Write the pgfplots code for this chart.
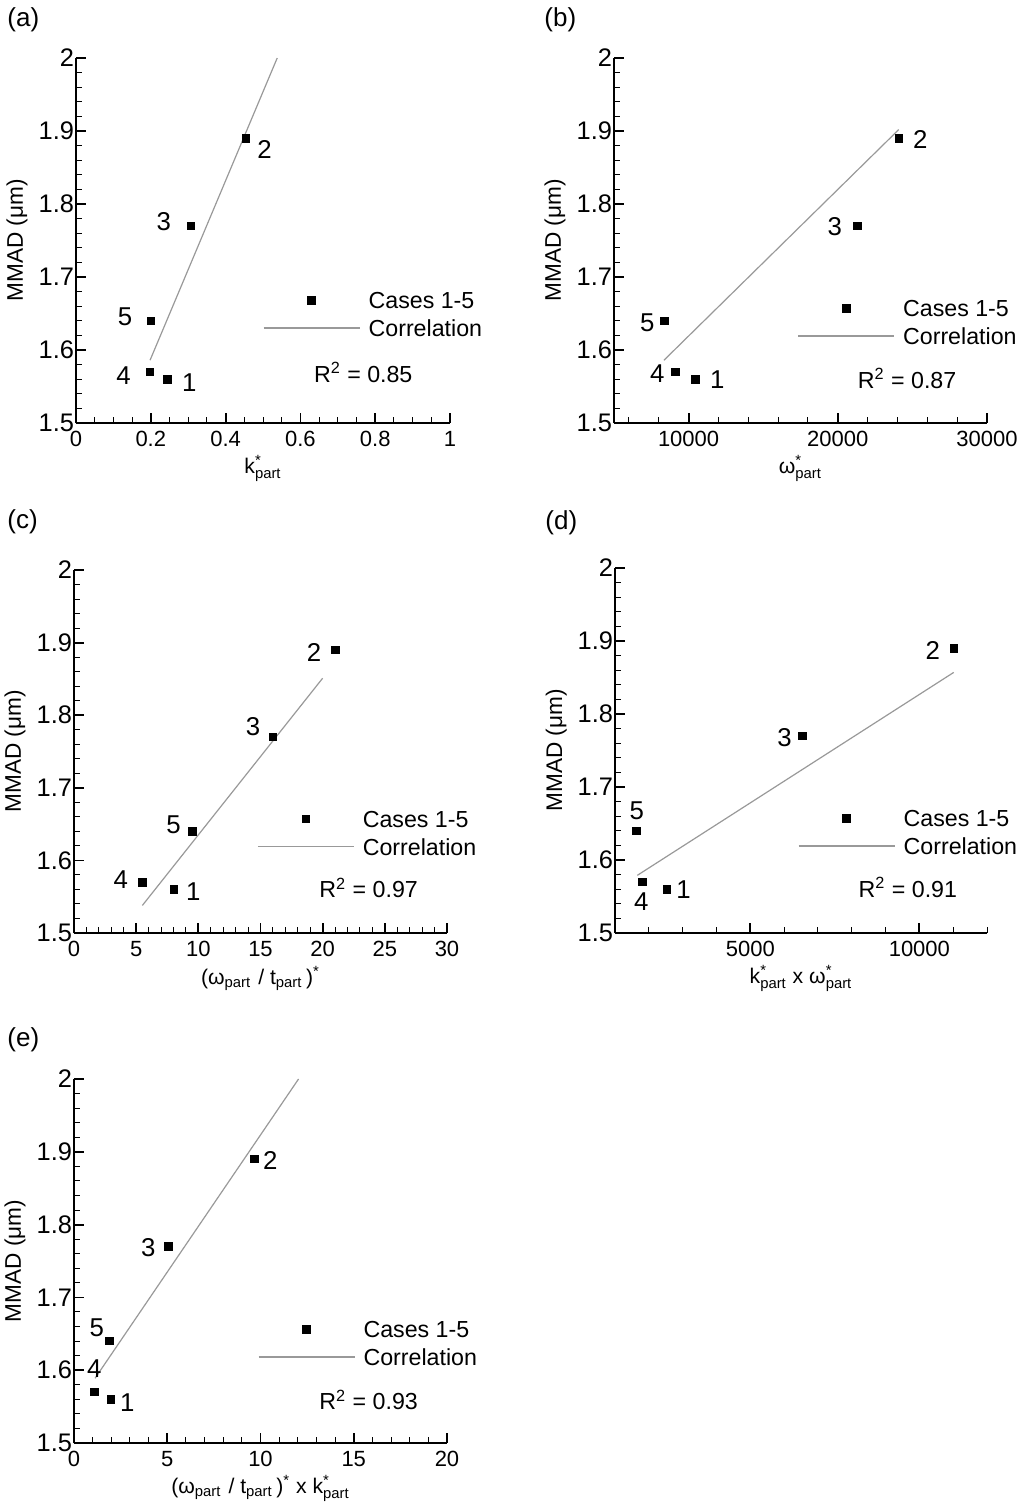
\documentclass[border=0pt]{standalone}
\usepackage{fontspec}
\setmainfont{Liberation Sans}
\usepackage{amsmath}
\usepackage{pgfplots}
\usepackage{pgfplotstable}
\pgfplotsset{compat=1.18}

% axis label pieces
\newcommand{\kstar}{k$^{\text{*}}_{\text{part}}$}
\newcommand{\wstar}{ω$^{\text{*}}_{\text{part}}$}
\newcommand{\wt}{(ω$_{\text{part}}$\,\,/ t$_{\text{part}}$\,)$^{\text{*}}$}

% cases 1..5 (rows in order) and the correlation line ends
\pgfplotstableread{
x y
0.244 1.56
0.454 1.89
0.307 1.77
0.198 1.57
0.200 1.64
}\casesA
\pgfplotstableread{
x y
0.198 1.586
0.538 2.000
}\fitA

\pgfplotstableread{
x y
10468 1.56
24087 1.89
21296 1.77
9128 1.57
8391 1.64
}\casesB
\pgfplotstableread{
x y
8347 1.586
24087 1.902
}\fitB

\pgfplotstableread{
x y
8.05 1.56
21.0 1.89
16.0 1.77
5.5 1.57
9.5 1.64
}\casesC
\pgfplotstableread{
x y
5.5 1.538
20.0 1.851
}\fitC

\pgfplotstableread{
x y
2535 1.56
11016 1.89
6548 1.77
1815 1.57
1627 1.64
}\casesD
\pgfplotstableread{
x y
1660 1.579
11016 1.857
}\fitD

\pgfplotstableread{
x y
1.97 1.56
9.66 1.89
5.06 1.77
1.09 1.57
1.90 1.64
}\casesE
\pgfplotstableread{
x y
1.13 1.589
12.04 2.000
}\fitE

\tikzset{
  lbl/.style={font=\fontsize{12.9}{14}\selectfont, inner sep=0pt},
  rsq/.style={font=\fontsize{11.6}{13}\selectfont, inner sep=0pt},
  plab/.style={font=\fontsize{13}{15}\selectfont, anchor=west, inner sep=0pt},
}

\pgfplotsset{
  mmad/.style={
    scale only axis, width=186.5pt, height=182pt,
    axis lines=left,
    axis line style={line width=1.3pt,-},
    clip=false,
    tick align=inside,
    major tick length=5pt, minor tick length=3pt,
    major tick style={line width=0.9pt,black},
    minor tick style={line width=0.5pt,black},
    ymin=1.5, ymax=2,
    ytick={1.5,1.6,1.7,1.8,1.9,2},
    minor ytick={1.52,1.54,1.56,1.58,1.62,1.64,1.66,1.68,1.72,1.74,1.76,1.78,1.82,1.84,1.86,1.88,1.92,1.94,1.96,1.98},
    yticklabel style={font=\fontsize{12.7}{14}\selectfont, inner xsep=0.8pt},
    xticklabel style={font=\fontsize{11}{13}\selectfont, inner ysep=4pt},
    /pgf/number format/assume math mode=true,
    /pgf/number format/1000 sep={},
    scaled x ticks=false,
    ylabel={MMAD (μm)},
    every axis y label/.style={at={(axis description cs:-0.158,0.5)}, rotate=90, anchor=center, font=\fontsize{11.3}{13}\selectfont},
    every axis x label/.style={at={(axis description cs:0.5,-0.125)}, anchor=center, font=\fontsize{10.6}{13}\selectfont},
    legend style={draw=none, fill=none, inner sep=0pt, column sep=4.2pt, row sep=5.4pt,
      font=\fontsize{11.6}{13}\selectfont, anchor=west,
      nodes={inner sep=0pt, text height=8.4pt, text depth=0pt}},
    legend cell align=left,
  },
  cases/.style={only marks, mark=square*, mark size=1.9pt, black,
    legend image code/.code={\draw[##1] plot coordinates {(24pt,0pt)};}},
  fit/.style={black!40, line width=0.6pt, no marks,
    legend image code/.code={\draw[##1] (0pt,0pt) -- (48pt,0pt);}},
}

\begin{document}
\begin{tikzpicture}
\useasboundingbox (0,0) rectangle (512pt,-755pt);
\node[plab] at (3.5pt,-10pt) {(a)};
\node[plab] at (272pt,-10pt) {(b)};
\node[plab] at (3.5pt,-261pt) {(c)};
\node[plab] at (272.5pt,-261.5pt) {(d)};
\node[plab] at (3.5pt,-520pt) {(e)};

% (a)
\begin{axis}[mmad, at={(38pt,-211.5pt)}, anchor=south west, width=187pt, height=182.5pt,
  xmin=0, xmax=1, xtick={0,0.2,0.4,0.6,0.8,1},
  minor xtick={0.05,0.1,0.15,0.25,0.3,0.35,0.45,0.5,0.55,0.65,0.7,0.75,0.85,0.9,0.95},
  xlabel={\kstar},
  legend style={at={(0.499,0.298)}}]
\addplot[cases] table[x=x,y=y] {\casesA};
\addlegendentry{Cases 1-5}
\addplot[fit] table[x=x,y=y] {\fitA};
\addlegendentry{Correlation}
\node[lbl] at (axis cs:0.303,1.556) {1};
\node[lbl] at (axis cs:0.504,1.875) {2};
\node[lbl] at (axis cs:0.235,1.776) {3};
\node[lbl] at (axis cs:0.127,1.565) {4};
\node[lbl] at (axis cs:0.131,1.645) {5};
\node[rsq] at (axis cs:0.768,1.569) {R\textsuperscript{2} = 0.85};
\end{axis}

% (b)
\begin{axis}[mmad, at={(307pt,-211.5pt)}, anchor=south west, width=186.5pt, height=182.5pt,
  xmin=5000, xmax=30000, xtick={10000,20000,30000},
  minor xtick={6000,8000,12000,14000,16000,18000,22000,24000,26000,28000},
  xlabel={\wstar},
  legend style={at={(0.491,0.276)}}]
\addplot[cases] table[x=x,y=y] {\casesB};
\addlegendentry{Cases 1-5}
\addplot[fit] table[x=x,y=y] {\fitB};
\addlegendentry{Correlation}
\node[lbl] at (axis cs:11920,1.559) {1};
\node[lbl] at (axis cs:25536,1.889) {2};
\node[lbl] at (axis cs:19803,1.769) {3};
\node[lbl] at (axis cs:7900,1.568) {4};
\node[lbl] at (axis cs:7230,1.637) {5};
\node[rsq] at (axis cs:24645,1.561) {R\textsuperscript{2} = 0.87};
\end{axis}

% (c)
\begin{axis}[mmad, at={(37pt,-466.5pt)}, anchor=south west, width=186.5pt, height=181.5pt,
  xmin=0, xmax=30, xtick={0,5,10,15,20,25,30},
  minor xtick={1,2,...,29},
  xlabel={\wt},
  legend style={at={(0.49,0.276)}}]
\addplot[cases] table[x=x,y=y] {\casesC};
\addlegendentry{Cases 1-5}
\addplot[fit] table[x=x,y=y] {\fitC};
\addlegendentry{Correlation}
\node[lbl] at (axis cs:9.6,1.557) {1};
\node[lbl] at (axis cs:19.3,1.886) {2};
\node[lbl] at (axis cs:14.4,1.784) {3};
\node[lbl] at (axis cs:3.76,1.573) {4};
\node[lbl] at (axis cs:8.0,1.649) {5};
\node[rsq] at (axis cs:23.7,1.562) {R\textsuperscript{2} = 0.97};
\end{axis}

% (d)
\begin{axis}[mmad, at={(307.5pt,-466.5pt)}, anchor=south west, width=186pt, height=182.5pt,
  xmin=1000, xmax=12000, xtick={5000,10000},
  minor xtick={2000,3000,4000,6000,7000,8000,9000,11000,12000},
  xlabel={\kstar{} x \wstar},
  legend style={at={(0.491,0.276)}}]
\addplot[cases] table[x=x,y=y] {\casesD};
\addlegendentry{Cases 1-5}
\addplot[fit] table[x=x,y=y] {\fitD};
\addlegendentry{Correlation}
\node[lbl] at (axis cs:3028,1.559) {1};
\node[lbl] at (axis cs:10394,1.887) {2};
\node[lbl] at (axis cs:6016,1.768) {3};
\node[lbl] at (axis cs:1775,1.5425) {4};
\node[lbl] at (axis cs:1647,1.667) {5};
\node[rsq] at (axis cs:9660,1.562) {R\textsuperscript{2} = 0.91};
\end{axis}

% (e)
\begin{axis}[mmad, at={(37pt,-721.5pt)}, anchor=south west, width=186.5pt, height=182pt,
  xmin=0, xmax=20, xtick={0,5,10,15,20},
  minor xtick={1,2,...,19},
  xlabel={\wt{} x \kstar},
  legend style={at={(0.492,0.274)}}]
\addplot[cases] table[x=x,y=y] {\casesE};
\addlegendentry{Cases 1-5}
\addplot[fit] table[x=x,y=y] {\fitE};
\addlegendentry{Correlation}
\node[lbl] at (axis cs:2.86,1.556) {1};
\node[lbl] at (axis cs:10.52,1.888) {2};
\node[lbl] at (axis cs:3.99,1.769) {3};
\node[lbl] at (axis cs:1.09,1.602) {4};
\node[lbl] at (axis cs:1.22,1.659) {5};
\node[rsq] at (axis cs:15.8,1.559) {R\textsuperscript{2} = 0.93};
\end{axis}
\end{tikzpicture}
\end{document}
